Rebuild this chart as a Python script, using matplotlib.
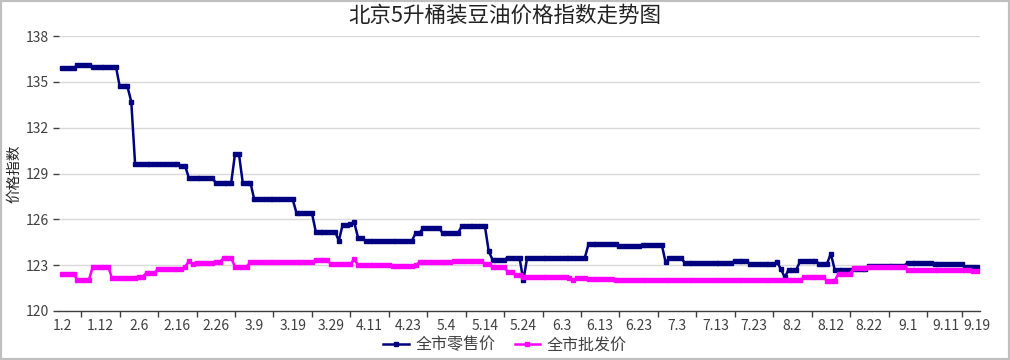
import pandas as pd
import matplotlib
matplotlib.use("Agg")
import matplotlib.pyplot as plt
from matplotlib.patches import Rectangle

plt.rcParams['font.family'] = ['Noto Sans CJK SC', 'DejaVu Sans']

# Category dates (daily, with holiday gaps)
date_segments = [("2013-01-02", "2013-01-21"), ("2013-02-06", "2013-02-28"),
                 ("2013-03-02", "2013-03-31"), ("2013-04-04", "2013-04-13"),
                 ("2013-04-16", "2013-04-30"), ("2013-05-02", "2013-09-19")]

# 全市零售价
retail = [
    135.9, 135.9, 135.9, 135.9, 136.1, 136.1, 136.1, 136.1, 136.0, 136.0,
    136.0, 136.0, 136.0, 136.0, 136.0, 134.7, 134.7, 134.7, 133.7, 129.6,
    129.6, 129.6, 129.6, 129.6, 129.6, 129.6, 129.6, 129.6, 129.6, 129.6,
    129.6, 129.5, 129.5, 128.7, 128.7, 128.7, 128.7, 128.7, 128.7, 128.7,
    128.4, 128.4, 128.4, 128.4, 128.4, 130.3, 130.3, 128.4, 128.4, 128.4,
    127.3, 127.3, 127.3, 127.3, 127.3, 127.3, 127.3, 127.3, 127.3, 127.3,
    127.3, 126.4, 126.4, 126.4, 126.4, 126.4, 125.2, 125.2, 125.2, 125.2,
    125.2, 125.2, 124.6, 125.65, 125.65, 125.7, 125.8, 124.8, 124.75, 124.6,
    124.6, 124.6, 124.6, 124.6, 124.6, 124.6, 124.6, 124.6, 124.6, 124.6,
    124.6, 124.6, 125.1, 125.1, 125.45, 125.45, 125.45, 125.45, 125.45, 125.1,
    125.1, 125.1, 125.1, 125.1, 125.55, 125.55, 125.55, 125.55, 125.55, 125.55,
    125.55, 123.9, 123.35, 123.35, 123.35, 123.35, 123.5, 123.5, 123.5, 123.5,
    122.0, 123.5, 123.5, 123.5, 123.5, 123.5, 123.5, 123.5, 123.5, 123.5,
    123.5, 123.5, 123.5, 123.5, 123.5, 123.5, 123.5, 124.4, 124.4, 124.4,
    124.4, 124.4, 124.4, 124.4, 124.4, 124.25, 124.25, 124.25, 124.25, 124.25,
    124.25, 124.35, 124.35, 124.35, 124.35, 124.35, 124.35, 123.2, 123.45, 123.45,
    123.45, 123.45, 123.17, 123.17, 123.17, 123.17, 123.17, 123.17, 123.17, 123.17,
    123.17, 123.17, 123.17, 123.17, 123.17, 123.25, 123.25, 123.25, 123.25, 123.08,
    123.08, 123.08, 123.08, 123.08, 123.08, 123.08, 123.2, 122.75, 122.2, 122.7,
    122.7, 122.7, 123.25, 123.25, 123.25, 123.25, 123.25, 123.1, 123.1, 123.1,
    123.75, 122.7, 122.7, 122.7, 122.7, 122.7, 122.75, 122.75, 122.75, 122.75,
    122.95, 122.95, 122.95, 122.95, 122.95, 122.95, 122.95, 122.95, 122.95, 122.95,
    123.15, 123.15, 123.15, 123.15, 123.15, 123.15, 123.15, 123.05, 123.05, 123.05,
    123.05, 123.05, 123.05, 123.05, 123.05, 122.9, 122.9, 122.9, 122.9,
]

# 全市批发价
wholesale = [
    122.4, 122.4, 122.4, 122.4, 122.05, 122.05, 122.05, 122.05, 122.9, 122.9,
    122.9, 122.9, 122.9, 122.15, 122.15, 122.15, 122.15, 122.15, 122.15, 122.15,
    122.25, 122.25, 122.5, 122.5, 122.5, 122.75, 122.75, 122.75, 122.75, 122.75,
    122.75, 122.75, 122.9, 123.25, 123.05, 123.15, 123.15, 123.15, 123.15, 123.15,
    123.2, 123.2, 123.45, 123.45, 123.45, 122.9, 122.9, 122.9, 122.9, 123.2,
    123.2, 123.2, 123.2, 123.2, 123.2, 123.2, 123.2, 123.2, 123.2, 123.2,
    123.2, 123.2, 123.2, 123.2, 123.2, 123.2, 123.35, 123.35, 123.35, 123.35,
    123.05, 123.05, 123.05, 123.05, 123.05, 123.05, 123.4, 123.0, 123.0, 123.0,
    123.0, 123.0, 123.0, 123.0, 123.0, 123.0, 122.95, 122.95, 122.95, 122.95,
    122.95, 122.95, 123.0, 123.2, 123.2, 123.2, 123.2, 123.2, 123.2, 123.2,
    123.2, 123.2, 123.3, 123.3, 123.3, 123.3, 123.3, 123.3, 123.3, 123.3,
    123.1, 123.1, 122.85, 122.85, 122.85, 122.85, 122.55, 122.55, 122.35, 122.35,
    122.25, 122.25, 122.25, 122.25, 122.25, 122.25, 122.25, 122.25, 122.25, 122.25,
    122.25, 122.25, 122.15, 122.05, 122.15, 122.15, 122.15, 122.1, 122.1, 122.1,
    122.1, 122.1, 122.1, 122.1, 122.03, 122.03, 122.03, 122.03, 122.03, 122.03,
    122.03, 122.03, 122.03, 122.03, 122.03, 122.03, 122.03, 122.03, 122.03, 122.03,
    122.03, 122.03, 122.03, 122.03, 122.03, 122.03, 122.03, 122.03, 122.03, 122.03,
    122.03, 122.03, 122.03, 122.03, 122.03, 122.03, 122.03, 122.03, 122.03, 122.03,
    122.03, 122.03, 122.03, 122.03, 122.03, 122.03, 122.03, 122.03, 122.03, 122.03,
    122.03, 122.03, 122.03, 122.2, 122.2, 122.2, 122.2, 122.2, 122.2, 121.98,
    121.98, 121.98, 122.45, 122.45, 122.45, 122.45, 122.82, 122.82, 122.82, 122.82,
    122.9, 122.9, 122.9, 122.9, 122.9, 122.9, 122.9, 122.9, 122.9, 122.9,
    122.68, 122.68, 122.68, 122.68, 122.68, 122.68, 122.68, 122.68, 122.68, 122.68,
    122.68, 122.68, 122.68, 122.68, 122.68, 122.68, 122.68, 122.6, 122.6,
]

y_ticks = [120, 123, 126, 129, 132, 135, 138]

dates = pd.DatetimeIndex([])
for start, end in date_segments:
    dates = dates.append(pd.date_range(start, end))
categories = [f"{d.month}.{d.day}" for d in dates]
x = list(range(len(categories)))

fig = plt.figure(figsize=(10.1, 3.6), dpi=100)
ax = fig.add_axes([59 / 1010, 1 - 311 / 360, (980 - 59) / 1010, (311 - 36) / 360])

ax.plot(x, retail, color='#000080', lw=1.8, marker='s', markersize=3.5,
        label='全市零售价')
ax.plot(x, wholesale, color='#FF00FF', lw=1.8, marker='s', markersize=3.5,
        label='全市批发价')

ax.set_ylim(120, 138)
ax.set_yticks(y_ticks)
ax.set_xlim(-0.8, len(x) - 1 + 0.8)

# labels every 10 categories plus the last one, tick marks between them
label_pos = list(range(0, len(x), 10))
if label_pos[-1] != len(x) - 1:
    label_pos.append(len(x) - 1)
ax.set_xticks(label_pos)
ax.set_xticklabels([categories[i] for i in label_pos])
ax.set_xticks([(a + b) / 2 for a, b in zip(label_pos[:-1], label_pos[1:])], minor=True)
ax.tick_params(axis='x', which='major', length=0, pad=6, labelsize=10, colors='#404040')
ax.tick_params(axis='x', which='minor', length=4, width=1, color='#404040')
ax.tick_params(axis='y', length=4, width=1, color='#404040', labelsize=10,
               labelcolor='#404040', pad=3)

ax.grid(axis='y', color='#d9d9d9', lw=1)
ax.set_axisbelow(True)
for s in ['top', 'right', 'left']:
    ax.spines[s].set_visible(False)
ax.spines['bottom'].set_color('#404040')
ax.spines['bottom'].set_linewidth(1)

ax.set_ylabel('价格指数', fontsize=10.5, color='#222222')
ax.yaxis.set_label_coords(-0.041, 0.5)
fig.text(0.5, 1 - 16 / 360, '北京5升桶装豆油价格指数走势图', ha='center', va='center',
         fontsize=15.5, color='#222222')

fig.legend(loc='center', bbox_to_anchor=(0.5, 1 - 345 / 360), ncol=2, frameon=False,
           fontsize=11.5, handlelength=1.6, columnspacing=1.2, handletextpad=0.4,
           labelcolor='#404040')

fig.patches.append(Rectangle((0, 0), 1, 1, transform=fig.transFigure, fill=False,
                             edgecolor='#bfbfbf', linewidth=3))

fig.savefig('out.png', dpi=100)
